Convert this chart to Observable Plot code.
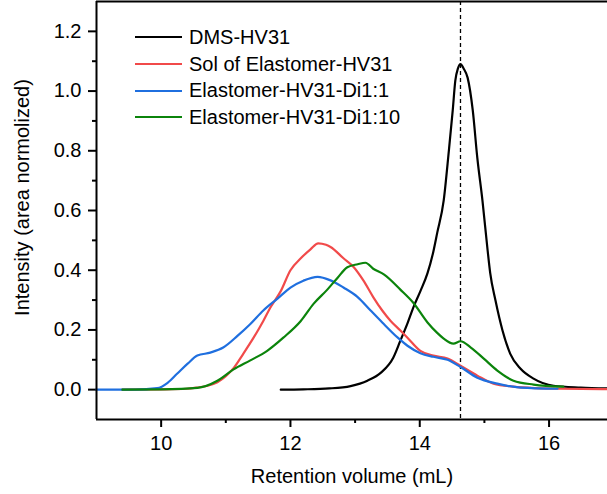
<!DOCTYPE html>
<html>
<head>
<meta charset="utf-8">
<script src="https://cdn.jsdelivr.net/npm/d3@7"></script>
<script src="https://cdn.jsdelivr.net/npm/@observablehq/plot@0.6"></script>
<style>
  html, body { margin: 0; padding: 0; background: #fff; }
  #wrap { position: relative; width: 607px; height: 494px; font-family: Arial, "Liberation Sans", sans-serif; }
  #legend { position: absolute; left: 135px; top: 24px; font-size: 20px; color: #000; }
  #legend .row { display: flex; align-items: center; height: 26.7px; }
  #legend .sw { width: 47px; height: 0; border-top: 2.5px solid; margin-right: 7px; }
</style>
</head>
<body>
<div id="wrap"><div id="legend"></div></div>
<script>
// Series names and colors
const seriesNames = ["DMS-HV31", "Sol of Elastomer-HV31", "Elastomer-HV31-Di1:1", "Elastomer-HV31-Di1:10"];
const seriesColors = ["#000000", "#f14a4a", "#1f6fdf", "#0b840b"];

// DMS-HV31 (black)
const dmsX = [11.85, 12.2, 12.6, 12.93, 13.19, 13.4, 13.59, 13.70, 13.81, 13.90, 14.01, 14.12, 14.21, 14.27, 14.37, 14.45, 14.51, 14.55, 14.59, 14.63, 14.68, 14.74, 14.82, 14.89, 14.97, 15.05, 15.09, 15.17, 15.28, 15.40, 15.56, 15.76, 16.07, 16.49, 16.9];
const dmsY = [0.0, 0.001, 0.004, 0.012, 0.03, 0.057, 0.107, 0.164, 0.222, 0.275, 0.33, 0.39, 0.462, 0.525, 0.633, 0.80, 0.935, 1.035, 1.075, 1.09, 1.075, 1.045, 0.935, 0.777, 0.633, 0.466, 0.39, 0.30, 0.198, 0.12, 0.07, 0.037, 0.013, 0.007, 0.004];

// Sol of Elastomer-HV31 (red)
const solX = [9.4, 10.0, 10.4, 10.56, 10.72, 10.87, 11.0, 11.12, 11.27, 11.43, 11.58, 11.69, 11.85, 12.0, 12.16, 12.31, 12.43, 12.55, 12.62, 12.82, 12.98, 13.13, 13.28, 13.42, 13.55, 13.70, 13.81, 14.01, 14.21, 14.43, 14.63, 14.89, 15.14, 15.45, 15.8, 16.18, 16.9];
const solY = [0, 0.001, 0.003, 0.007, 0.013, 0.025, 0.045, 0.072, 0.12, 0.174, 0.23, 0.275, 0.33, 0.40, 0.44, 0.47, 0.49, 0.485, 0.478, 0.44, 0.41, 0.365, 0.31, 0.265, 0.23, 0.198, 0.174, 0.13, 0.114, 0.104, 0.08, 0.047, 0.02, 0.01, 0.005, 0.003, 0.002];

// Elastomer-HV31-Di1:1 (blue)
const di1X = [9.0, 9.6, 9.94, 10.10, 10.25, 10.41, 10.56, 10.76, 10.96, 11.18, 11.38, 11.58, 11.80, 12.0, 12.20, 12.42, 12.62, 12.82, 13.04, 13.24, 13.42, 13.66, 13.81, 14.01, 14.21, 14.43, 14.63, 14.89, 15.20, 15.56, 16.13];
const di1Y = [0, 0, 0.005, 0.023, 0.054, 0.087, 0.114, 0.124, 0.141, 0.18, 0.22, 0.265, 0.305, 0.342, 0.365, 0.378, 0.366, 0.342, 0.31, 0.265, 0.225, 0.174, 0.147, 0.122, 0.11, 0.1, 0.076, 0.04, 0.02, 0.007, 0.003];

// Elastomer-HV31-Di1:10 (green)
const di10X = [9.4, 10.0, 10.56, 10.87, 11.12, 11.38, 11.64, 11.89, 12.16, 12.36, 12.57, 12.73, 12.88, 13.04, 13.16, 13.28, 13.45, 13.70, 13.90, 14.12, 14.27, 14.37, 14.52, 14.63, 14.79, 14.99, 15.20, 15.45, 15.76, 16.22];
const di10Y = [0, 0.001, 0.006, 0.03, 0.068, 0.098, 0.13, 0.174, 0.23, 0.288, 0.335, 0.375, 0.41, 0.42, 0.425, 0.405, 0.385, 0.335, 0.291, 0.225, 0.19, 0.171, 0.154, 0.162, 0.141, 0.104, 0.064, 0.03, 0.017, 0.01];

// Reference line and ticks
const refLineX = [14.63];
const xMajorTicks = [10, 12, 14, 16];
const xMinorTicks = [11, 13, 15];
const yMajorTicks = [0.0, 0.2, 0.4, 0.6, 0.8, 1.0, 1.2];
const yMinorTicks = [0.1, 0.3, 0.5, 0.7, 0.9, 1.1];
const xDomain = [9, 16.904];
const yDomain = [-0.1, 1.3];
const xLabel = "Retention volume (mL)";
const yLabel = "Intensity (area normolized)";

const allX = [dmsX, solX, di1X, di10X];
const allY = [dmsY, solY, di1Y, di10Y];
const rows = seriesNames.flatMap((name, i) => allX[i].map((x, j) => ({series: name, x, y: allY[i][j]})));

const font = "Arial, 'Liberation Sans', sans-serif";
const chart = Plot.plot({
  width: 607,
  height: 494,
  marginTop: 1,
  marginLeft: 96,
  marginRight: 0,
  marginBottom: 75,
  style: {fontFamily: font, fontSize: "20px", color: "#000", background: "#fff", overflow: "visible"},
  x: {domain: xDomain},
  y: {domain: yDomain},
  color: {domain: seriesNames, range: seriesColors},
  marks: [
    Plot.axisX(xMajorTicks, {tickSize: 8, tickPadding: 8, strokeWidth: 2, label: null, fontSize: 20, tickFormat: d => String(d)}),
    Plot.axisX(xMinorTicks, {tickSize: 4, strokeWidth: 2, label: null, tickFormat: () => ""}),
    Plot.axisY(yMajorTicks, {tickSize: 8, tickPadding: 7, strokeWidth: 2, label: null, fontSize: 20, tickFormat: d3.format(".1f")}),
    Plot.axisY(yMinorTicks, {tickSize: 4, strokeWidth: 2, label: null, tickFormat: () => ""}),
    Plot.ruleX(refLineX, {stroke: "#000", strokeWidth: 1.3, strokeDasharray: "4,3"}),
    Plot.line(rows, {x: "x", y: "y", z: "series", stroke: "series", strokeWidth: 2.2, curve: "monotone-x"}),
    Plot.ruleX([xDomain[0]], {stroke: "#000", strokeWidth: 2}),
    Plot.ruleY([yDomain[0]], {stroke: "#000", strokeWidth: 2}),
    Plot.ruleY([yDomain[1]], {stroke: "#000", strokeWidth: 2}),
    Plot.text([xLabel], {frameAnchor: "bottom", textAnchor: "middle", lineAnchor: "middle", dy: 57, fontSize: 20, fill: "#000"}),
    Plot.text([yLabel], {frameAnchor: "left", textAnchor: "middle", lineAnchor: "middle", rotate: -90, dx: -74, dy: -13, fontSize: 20, fill: "#000"})
  ]
});
document.getElementById("wrap").prepend(chart);

const legend = document.getElementById("legend");
seriesNames.forEach((name, i) => {
  const row = document.createElement("div");
  row.className = "row";
  const sw = document.createElement("span");
  sw.className = "sw";
  sw.style.borderTopColor = seriesColors[i];
  const t = document.createElement("span");
  t.textContent = name;
  row.append(sw, t);
  legend.append(row);
});
</script>
</body>
</html>
